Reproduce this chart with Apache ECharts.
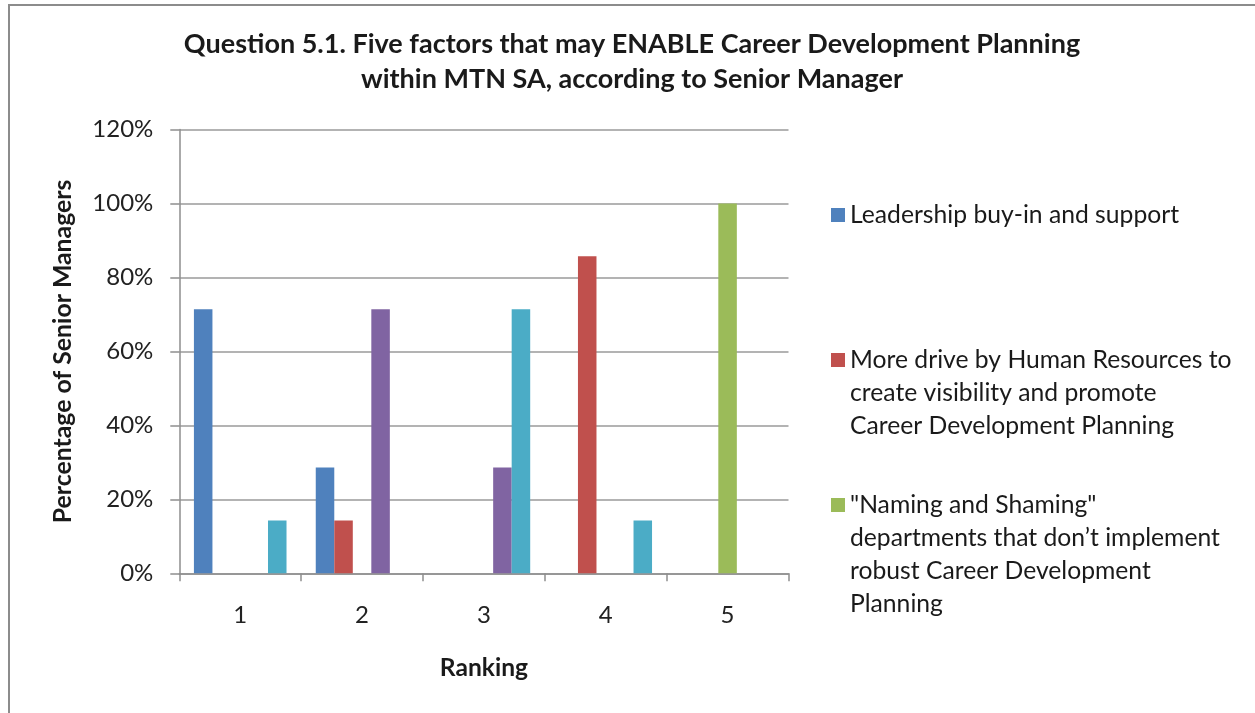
<!DOCTYPE html>
<html>
<head>
<meta charset="utf-8">
<script src="https://cdn.jsdelivr.net/npm/echarts@6/dist/echarts.min.js"></script>
<style>
  html, body { margin: 0; padding: 0; background: #ffffff; }
  #chart { width: 1255px; height: 713px; }
</style>
</head>
<body>
<div id="chart"></div>
<script>
// Ranking positions on the x axis
const categories = ['1', '2', '3', '4', '5'];

// Percentage of senior managers per ranking, one array per factor
const leadershipSupport = [71.4, 28.6, 0, 0, 0];
const hrDrive = [0, 14.3, 0, 85.7, 0];
const namingShaming = [0, 0, 0, 0, 100];
const factorFour = [0, 71.4, 28.6, 0, 0];
const factorFive = [14.3, 0, 71.4, 14.3, 0];

const seriesNames = [
  'Leadership buy-in and support',
  'More drive by Human Resources',
  'Naming and Shaming',
  'Factor 4',
  'Factor 5'
];

// Wrapped legend captions (only the first three factors are listed)
const legendLines = [
  ['Leadership buy-in and support'],
  ['More drive by Human Resources to', 'create visibility and promote', 'Career Development Planning'],
  ['"Naming and Shaming"', 'departments that don\u2019t implement', 'robust Career Development', 'Planning']
];

const yTicks = { min: 0, max: 120, interval: 20 };

const colors = ['#4F81BD', '#C0504D', '#9BBB59', '#8064A2', '#4BACC6'];
const FONT = 'Lato';
const LEGEND_LH = 33;
const legendFirstLineY = [215, 360, 505];

const chart = echarts.init(document.getElementById('chart'));

// Each legend entry keeps its swatch level with the first caption line:
// blank lines above balance the wrapped lines below the swatch centre.
const legends = legendLines.map((lines, i) => {
  const n = lines.length;
  const blank = new Array(n - 1).fill('');
  return {
    orient: 'vertical',
    left: 831,
    top: legendFirstLineY[i] - ((2 * n - 1) * LEGEND_LH) / 2,
    padding: 0,
    itemWidth: 14,
    itemHeight: 14,
    itemGap: 0,
    icon: 'rect',
    selectedMode: false,
    data: [seriesNames[i]],
    formatter: () => blank.concat(lines).join('\n'),
    textStyle: {
      fontFamily: FONT,
      fontSize: 24.7,
      color: '#1a1a1a',
      lineHeight: LEGEND_LH
    }
  };
});

const dataSets = [leadershipSupport, hrDrive, namingShaming, factorFour, factorFive];

chart.setOption({
  animation: false,
  color: colors,
  title: {
    text: 'Question 5.1. Five factors that may ENABLE Career Development Planning\nwithin MTN SA, according to Senior Manager',
    left: 632,
    top: 27,
    textAlign: 'center',
    padding: 0,
    textStyle: {
      fontFamily: FONT,
      fontSize: 27,
      fontWeight: 'bold',
      color: '#1a1a1a',
      lineHeight: 35
    }
  },
  legend: legends,
  graphic: [{
    type: 'rect',
    z: -10,
    silent: true,
    shape: { x: 9, y: 5, width: 1300, height: 800 },
    style: { fill: 'none', stroke: '#8c8c8c', lineWidth: 2 }
  }],
  grid: {
    left: 179.3,
    top: 129.5,
    right: 466.5,
    bottom: 139.7,
    containLabel: false
  },
  xAxis: {
    type: 'category',
    data: categories,
    name: 'Ranking',
    nameLocation: 'middle',
    nameGap: 82,
    nameTextStyle: { fontFamily: FONT, fontSize: 24.6, fontWeight: 'bold', color: '#1a1a1a' },
    axisLine: { show: true, lineStyle: { color: '#8e8e8e', width: 1.5 } },
    axisTick: { show: true, alignWithLabel: false, length: 8, lineStyle: { color: '#8e8e8e', width: 1.5 } },
    axisLabel: { fontFamily: FONT, fontSize: 24, color: '#222', margin: 30 },
    splitLine: { show: false }
  },
  yAxis: {
    type: 'value',
    min: yTicks.min,
    max: yTicks.max,
    interval: yTicks.interval,
    name: 'Percentage of Senior Managers',
    nameLocation: 'middle',
    nameGap: 104,
    nameTextStyle: { fontFamily: FONT, fontSize: 24.8, fontWeight: 'bold', color: '#1a1a1a' },
    axisLine: { show: true, lineStyle: { color: '#8e8e8e', width: 1.5 } },
    axisTick: { show: true, inside: false, length: 9, lineStyle: { color: '#8e8e8e', width: 1.5 } },
    axisLabel: { fontFamily: FONT, fontSize: 24, color: '#222', margin: 26, formatter: '{value}%' },
    splitLine: { show: true, lineStyle: { color: '#9a9a9a', width: 1.5 } }
  },
  series: dataSets.map((d, i) => ({
    name: seriesNames[i],
    type: 'bar',
    data: d,
    barGap: '0%',
    barCategoryGap: '24%',
    itemStyle: { color: colors[i] }
  }))
});
</script>
</body>
</html>
